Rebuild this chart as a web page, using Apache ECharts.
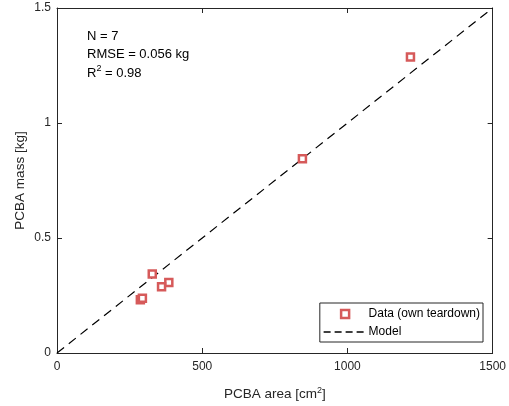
<!DOCTYPE html>
<html><head><meta charset="utf-8">
<script src="https://cdn.jsdelivr.net/npm/echarts@6/dist/echarts.min.js"></script>
<style>html,body{margin:0;padding:0;background:#fff}#c{width:509px;height:406px}</style>
</head><body><div id="c"></div>
<script>
const areaCm2 = [1217, 845, 328, 385, 360, 287, 294];
const massKg  = [1.287, 0.845, 0.343, 0.306, 0.288, 0.231, 0.238];
const modelX = [0, 1500];
const modelY = [0, 1.5];
const xTicks = [0, 500, 1000, 1500];
const yTicks = [0, 0.5, 1, 1.5];
const FONT = '"Liberation Sans", Arial, Helvetica, sans-serif';
const AX = '#262626';
const RED = '#d65a5a';

const chart = echarts.init(document.getElementById('c'), null, {renderer:'canvas'});
const axisCommon = {
  axisLine:{show:true, onZero:false, lineStyle:{color:AX, width:1}},
  axisTick:{show:true, inside:true, length:5, lineStyle:{color:AX}},
  splitLine:{show:false}
};
chart.setOption({
  animation:false,
  backgroundColor:'#fff',
  textStyle:{fontFamily:FONT},
  grid:{left:57, right:12, top:8, bottom:53, containLabel:false},
  title:{
    left:82, top:22,
    text:'N = 7\nRMSE = 0.056 kg\nR{sup|2} = 0.98',
    textStyle:{fontFamily:FONT, fontSize:13, fontWeight:'normal', color:'#000', lineHeight:18.5,
      rich:{sup:{fontSize:9, verticalAlign:'top', lineHeight:18.5, padding:[0,0,8,0], color:'#000', fontFamily:FONT}}}
  },
  legend:{
    orient:'vertical', right:26, bottom:64,
    backgroundColor:'#fff', borderColor:AX, borderWidth:1, borderRadius:0,
    padding:[5,3,4,3], itemGap:6, itemWidth:43, itemHeight:8,
    textStyle:{fontFamily:FONT, fontSize:12, color:'#000', padding:[0,0,0,-3]},
    data:[
      {name:'Data (own teardown)', icon:'path://M0,0H10V10H0Z',
        itemStyle:{color:'#fff', borderColor:RED, borderWidth:2.5}},
      {name:'Model', itemStyle:{opacity:0}, lineStyle:{type:[7,4], width:1.6, color:'#000', opacity:1}}
    ]
  },
  xAxis:[
    Object.assign({type:'value', min:0, max:1500, interval:500, position:'bottom',
      name:'PCBA area [cm{sup|2}]', nameLocation:'middle', nameGap:33, nameMoveOverlap:false,
      nameTextStyle:{fontFamily:FONT, fontSize:13.5, color:AX,
        rich:{sup:{fontSize:9, verticalAlign:'top', padding:[0,0,7,0], color:AX, fontFamily:FONT}}},
      axisLabel:{fontFamily:FONT, fontSize:12, color:AX, margin:8,
        formatter:v=>xTicks.includes(v)?String(v):''}}, axisCommon),
    Object.assign({type:'value', min:0, max:1500, interval:500, position:'top',
      axisLabel:{show:false}}, axisCommon)
  ],
  yAxis:[
    Object.assign({type:'value', min:0, max:1.5, interval:0.5, position:'left',
      name:'PCBA mass [kg]', nameLocation:'middle', nameGap:30, nameMoveOverlap:false,
      nameTextStyle:{fontFamily:FONT, fontSize:13.5, color:AX},
      axisLabel:{fontFamily:FONT, fontSize:12, color:AX, margin:6,
        formatter:v=>yTicks.includes(v)?String(v):''}}, axisCommon),
    Object.assign({type:'value', min:0, max:1.5, interval:0.5, position:'right',
      axisLabel:{show:false}}, axisCommon)
  ],
  series:[
    {name:'Model', type:'line', xAxisIndex:0, yAxisIndex:0,
      data:modelX.map((x,i)=>[x, modelY[i]]), symbol:'none', showSymbol:false,
      lineStyle:{color:'#000', width:1.2, type:[9,6]}, itemStyle:{color:'#000'}, z:2},
    {name:'Data (own teardown)', type:'scatter', xAxisIndex:0, yAxisIndex:0,
      data:areaCm2.map((x,i)=>[x, massKg[i]]), symbol:'rect', symbolSize:7,
      itemStyle:{color:'#fff', borderColor:RED, borderWidth:2.5, opacity:1}, z:3}
  ]
});
</script></body></html>
